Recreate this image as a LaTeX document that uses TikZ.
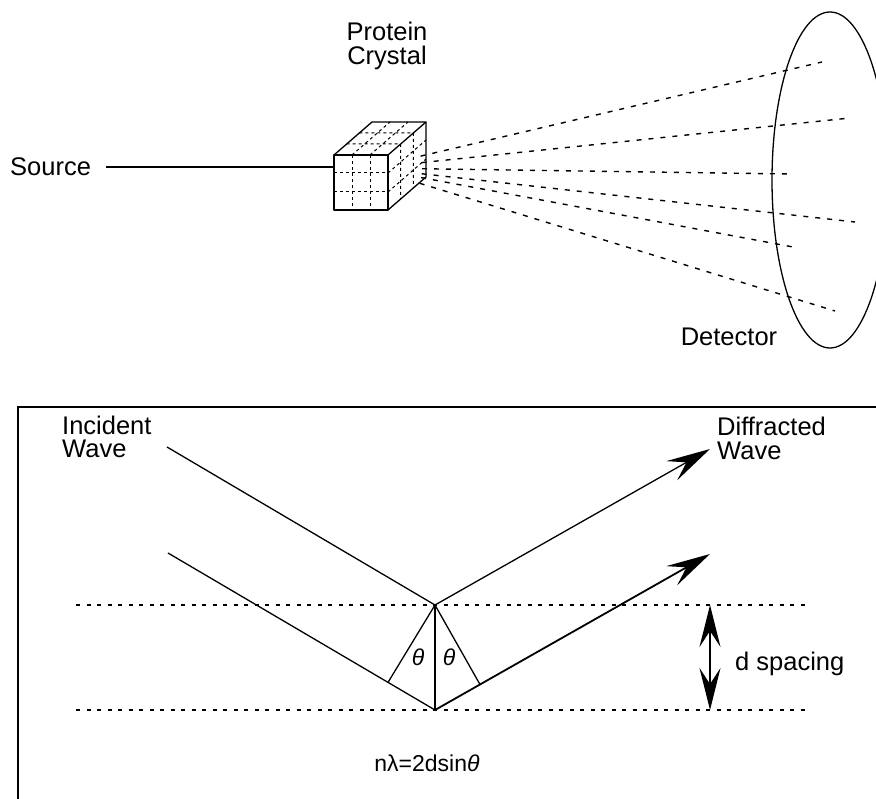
\documentclass[tikz,border=0pt]{standalone}
\usepackage{fontspec}
\setmainfont{Liberation Sans}
\usetikzlibrary{arrows.meta}
\tikzset{
  barb/.tip={Stealth[length=44pt,width=22pt,inset=17pt]},
  dbarb/.tip={Stealth[length=42pt,width=21pt,inset=16pt]}
}
\begin{document}
\begin{tikzpicture}[x=1pt,y=-1pt,
  lbl/.style={inner sep=0pt, font=\fontsize{25.5}{24}\selectfont, align=left},
  small/.style={inner sep=0pt, font=\fontsize{23}{23}\selectfont},
  edge/.style={line width=1.3pt, line join=round},
  grid/.style={line width=1pt, dash pattern=on 3pt off 3pt},
  ray/.style={line width=1.4pt, dash pattern=on 5pt off 7pt},
  plane/.style={line width=1.3pt, dash pattern=on 4pt off 6.5pt},
  beam/.style={line width=1.3pt},
  frame/.style={line width=1.6pt}
]
\useasboundingbox (0,0) rectangle (876,799);
\clip (0,0) rectangle (876,799);

% ---------- crystal, beam source and detector ----------
\node[lbl, anchor=base west] (src) at (10,176) {Source};
\node[lbl, anchor=base, align=center] (pc) at (387,65) {Protein\\Crystal};
\node[lbl, anchor=base] (det) at (729,346) {Detector};

% cube corners
\coordinate (f1) at (334,155);
\coordinate (f2) at (388,155);
\coordinate (f3) at (388,210);
\coordinate (f4) at (334,210);
\coordinate (b1) at (372,122);
\coordinate (b2) at (426,122);
\coordinate (b3) at (426,177);
\coordinate (cin) at (334,167);

\draw[beam] ([xshift=15pt]src.east |- cin) -- (cin);

% lattice marks on the cube faces
\draw[grid] (352,155) -- (352,210) (370,155) -- (370,210)
            (334,173) -- (388,173) (334,192) -- (388,192);
\draw[grid] (352,155) -- (390,122) (370,155) -- (408,122)
            (346.7,144) -- (400.7,144) (359.3,133) -- (413.3,133);
\draw[grid] (400.7,144) -- (400.7,199) (413.3,133) -- (413.3,188)
            (388,173) -- (426,140) (388,192) -- (426,159);

\draw[edge] (f1) -- (f2) -- (f3) -- (f4) -- cycle;
\draw[edge] (f1) -- (b1) -- (b2) -- (f2);
\draw[edge] (b2) -- (b3) -- (f3);

% diffracted rays, fanning out from the crystal's far face
\coordinate (focus) at (370,168);
\coordinate (d1) at (822,62);
\coordinate (d2) at (850,118);
\coordinate (d3) at (790,174);
\coordinate (d4) at (855,222);
\coordinate (d5) at (793,247);
\coordinate (d6) at (835,311);
\foreach \d in {d1,d2,d3,d4,d5,d6}
  \draw[ray, shorten <=52pt] (focus) -- (\d);

% detector
\draw[edge] (830,180) ellipse [x radius=58pt, y radius=168pt];

% ---------- Bragg reflection ----------
\draw[frame] (876,407) -- (18,407) -- (18,805);

\coordinate (apex) at (435,605);
\coordinate (foot) at (435,710);
\coordinate (inA) at (167,447);
\coordinate (inB) at (168,553);
\coordinate (outA) at (710,449);
\coordinate (outB) at (710,554);
\coordinate (pL) at (388,682.4);
\coordinate (pR) at (480,684.5);
\coordinate (l1a) at (76,605);
\coordinate (l1b) at (806,605);
\coordinate (l2a) at (76,710);
\coordinate (l2b) at (806,710);
\coordinate (dTop) at (710,605);
\coordinate (dBot) at (710,710);

\draw[plane] (l1a) -- (l1b);
\draw[plane] (l2a) -- (l2b);

\draw[beam] (inA) -- (apex);
\draw[beam, -{barb}] (apex) -- (outA);
\draw[beam] (inB) -- (foot);
\draw[line width=1.8pt, -{barb}] (foot) -- (outB);
\draw[beam] (apex) -- (pL);
\draw[beam] (apex) -- (pR);
\draw[beam] (apex) -- (foot);
\draw[beam, {dbarb}-{dbarb}] (dTop) -- (dBot);

\node[lbl, anchor=base west] (inc) at (62,458) {Incident\\Wave};
\node[lbl, anchor=base west] (dif) at (717,460) {Diffracted\\Wave};
\node[lbl, anchor=base west] (dsp) at (735,670) {d spacing};
\node[small] (th1) at (418,657) {\textit{θ}};
\node[small] (th2) at (449,657) {\textit{θ}};
\node[small, anchor=base] (eq) at (427,771) {nλ=2dsin\textit{θ}};
\end{tikzpicture}
\end{document}
